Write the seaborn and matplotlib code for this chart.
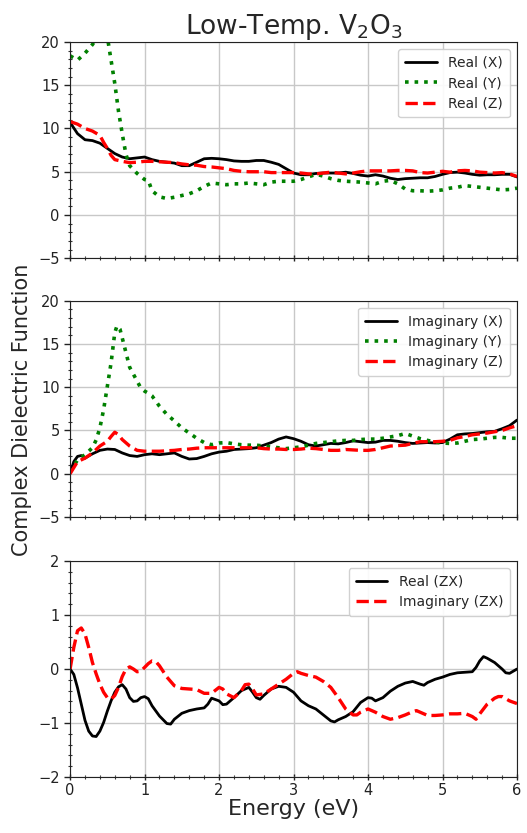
import numpy as np
import pandas as pd
import matplotlib
matplotlib.use("Agg")
import matplotlib.pyplot as plt
from matplotlib.ticker import AutoMinorLocator
import seaborn as sns

# ---- Real part, diagonal components ----
e_re_x = [0.0, 0.1, 0.2, 0.3, 0.4, 0.5, 0.6, 0.7, 0.8, 0.9, 1.0, 1.1, 1.2, 1.3, 1.4, 1.5, 1.6, 1.7, 1.8, 1.9,
          2.0, 2.1, 2.2, 2.3, 2.4, 2.5, 2.6, 2.7, 2.8, 2.9, 3.0, 3.1, 3.2, 3.3, 3.4, 3.5, 3.6, 3.7, 3.8, 3.9,
          4.0, 4.1, 4.2, 4.3, 4.4, 4.5, 4.6, 4.7, 4.8, 4.9, 5.0, 5.1, 5.2, 5.3, 5.4, 5.5, 5.6, 5.7, 5.8, 5.9, 6.0]
re_x = [10.7, 9.4, 8.7, 8.6, 8.3, 7.7, 7.1, 6.7, 6.5, 6.6, 6.7, 6.4, 6.2, 6.1, 6.0, 5.7, 5.7, 6.1, 6.5, 6.55,
        6.5, 6.4, 6.25, 6.2, 6.2, 6.3, 6.3, 6.1, 5.85, 5.35, 4.85, 4.65, 4.65, 4.8, 4.85, 4.85, 4.85, 4.95, 4.8, 4.6,
        4.5, 4.65, 4.5, 4.25, 4.1, 4.2, 4.25, 4.3, 4.3, 4.45, 4.7, 4.9, 4.95, 4.85, 4.7, 4.6, 4.65, 4.65, 4.7, 4.7, 4.4]

e_re_y = [0.0, 0.1, 0.2, 0.3, 0.4, 0.5, 0.6, 0.65, 0.7, 0.75, 0.8, 0.9, 1.0, 1.05, 1.1, 1.2, 1.3, 1.4, 1.5, 1.6,
          1.7, 1.8, 1.9, 2.0, 2.1, 2.2, 2.3, 2.4, 2.5, 2.6, 2.7, 2.8, 2.9, 3.0, 3.1, 3.2, 3.3, 3.4, 3.5, 3.6,
          3.7, 3.8, 3.9, 4.0, 4.1, 4.2, 4.3, 4.4, 4.5, 4.6, 4.7, 4.8, 4.9, 5.0, 5.1, 5.2, 5.3, 5.4, 5.5, 5.6,
          5.7, 5.8, 5.9, 6.0]
re_y = [18.4, 17.9, 18.7, 19.7, 21.0, 20.6, 15.2, 12.0, 9.4, 7.0, 5.7, 4.8, 4.1, 4.0, 2.8, 2.1, 1.9, 2.05, 2.25, 2.45,
        2.8, 3.3, 3.7, 3.6, 3.5, 3.6, 3.6, 3.7, 3.6, 3.5, 3.8, 3.9, 3.9, 3.9, 4.1, 4.4, 4.7, 4.5, 4.2, 4.0,
        3.9, 3.85, 3.8, 3.7, 3.6, 3.9, 4.0, 3.6, 3.0, 2.8, 2.8, 2.75, 2.8, 2.9, 3.1, 3.2, 3.4, 3.3, 3.2, 3.1,
        3.0, 2.9, 2.95, 3.1]

e_re_z = [0.0, 0.1, 0.2, 0.3, 0.4, 0.45, 0.5, 0.55, 0.6, 0.7, 0.8, 0.9, 1.0, 1.1, 1.2, 1.3, 1.4, 1.5, 1.6, 1.7,
          1.8, 1.9, 2.0, 2.1, 2.2, 2.3, 2.4, 2.5, 2.6, 2.7, 2.8, 2.9, 3.0, 3.1, 3.2, 3.3, 3.4, 3.5, 3.6, 3.7,
          3.8, 3.9, 4.0, 4.1, 4.2, 4.3, 4.4, 4.5, 4.6, 4.7, 4.8, 4.9, 5.0, 5.1, 5.2, 5.3, 5.4, 5.5, 5.6, 5.7,
          5.8, 5.9, 6.0]
re_z = [10.8, 10.5, 10.0, 9.7, 9.2, 8.4, 7.7, 6.9, 6.4, 6.2, 6.05, 6.1, 6.2, 6.2, 6.15, 6.1, 6.05, 5.9, 5.8, 5.75,
        5.6, 5.55, 5.45, 5.35, 5.15, 5.05, 5.0, 5.0, 5.0, 4.9, 4.9, 4.9, 4.9, 4.85, 4.75, 4.75, 4.85, 4.95, 4.85, 4.75,
        4.85, 5.0, 5.1, 5.1, 5.1, 5.1, 5.15, 5.15, 5.1, 4.9, 4.85, 4.95, 5.05, 4.95, 5.1, 5.15, 5.1, 4.95, 4.9, 4.85,
        4.9, 4.75, 4.45]

# ---- Imaginary part, diagonal components ----
e_im_x = [0.0, 0.05, 0.1, 0.15, 0.2, 0.3, 0.4, 0.5, 0.6, 0.7, 0.8, 0.9, 1.0, 1.1, 1.2, 1.3, 1.4, 1.5, 1.6, 1.7,
          1.8, 1.9, 2.0, 2.1, 2.2, 2.3, 2.4, 2.5, 2.6, 2.7, 2.8, 2.9, 3.0, 3.1, 3.2, 3.3, 3.4, 3.5, 3.6, 3.7,
          3.8, 3.9, 4.0, 4.1, 4.2, 4.3, 4.4, 4.5, 4.6, 4.7, 4.8, 4.9, 5.0, 5.1, 5.2, 5.3, 5.4, 5.5, 5.6, 5.7,
          5.8, 5.9, 6.0]
im_x = [0.0, 1.4, 2.0, 2.1, 1.8, 2.3, 2.7, 2.85, 2.8, 2.4, 2.1, 2.0, 2.2, 2.3, 2.2, 2.3, 2.4, 2.0, 1.7, 1.75,
        2.0, 2.3, 2.5, 2.6, 2.8, 2.85, 2.9, 3.0, 3.3, 3.6, 4.0, 4.25, 4.05, 3.75, 3.35, 3.2, 3.35, 3.5, 3.45, 3.6,
        3.8, 3.7, 3.6, 3.65, 3.85, 3.85, 3.75, 3.6, 3.5, 3.55, 3.6, 3.55, 3.6, 4.0, 4.5, 4.6, 4.65, 4.75, 4.85, 4.9,
        5.2, 5.55, 6.2]

e_im_y = [0.0, 0.1, 0.2, 0.3, 0.35, 0.4, 0.45, 0.5, 0.55, 0.6, 0.63, 0.67, 0.7, 0.75, 0.8, 0.9, 0.95, 1.0, 1.05, 1.1,
          1.2, 1.3, 1.4, 1.5, 1.6, 1.7, 1.8, 1.9, 2.0, 2.1, 2.2, 2.3, 2.4, 2.5, 2.6, 2.7, 2.8, 2.9, 3.0, 3.1,
          3.2, 3.3, 3.4, 3.5, 3.6, 3.7, 3.8, 3.9, 4.0, 4.1, 4.2, 4.3, 4.4, 4.5, 4.6, 4.7, 4.8, 4.9, 5.0, 5.1,
          5.2, 5.3, 5.4, 5.5, 5.6, 5.7, 5.8, 5.9, 6.0]
im_y = [0.2, 1.6, 2.2, 3.0, 3.9, 5.3, 7.4, 10.1, 12.8, 16.3, 17.1, 16.7, 15.7, 14.0, 12.3, 10.7, 9.9, 9.55, 9.3, 9.0,
        7.8, 6.85, 6.1, 5.3, 4.7, 4.1, 3.6, 3.35, 3.55, 3.6, 3.45, 3.35, 3.3, 3.3, 3.2, 3.1, 3.0, 2.9, 3.0, 3.1,
        3.3, 3.5, 3.6, 3.7, 3.8, 3.85, 3.85, 3.95, 4.0, 4.0, 4.1, 4.25, 4.4, 4.65, 4.35, 4.05, 3.85, 3.65, 3.55, 3.5,
        3.55, 3.75, 3.95, 4.0, 4.1, 4.2, 4.2, 4.1, 4.1]

e_im_z = [0.0, 0.1, 0.2, 0.3, 0.4, 0.5, 0.55, 0.6, 0.65, 0.7, 0.8, 0.9, 1.0, 1.1, 1.2, 1.3, 1.4, 1.5, 1.6, 1.7,
          1.8, 1.9, 2.0, 2.1, 2.2, 2.3, 2.4, 2.5, 2.6, 2.7, 2.8, 2.9, 3.0, 3.1, 3.2, 3.3, 3.4, 3.5, 3.6, 3.7,
          3.8, 3.9, 4.0, 4.1, 4.2, 4.3, 4.4, 4.5, 4.6, 4.7, 4.8, 4.9, 5.0, 5.1, 5.2, 5.3, 5.4, 5.5, 5.6, 5.7,
          5.8, 5.9, 6.0]
im_z = [0.0, 1.4, 1.8, 2.4, 3.2, 3.75, 4.3, 4.8, 4.5, 3.95, 3.2, 2.7, 2.6, 2.6, 2.6, 2.65, 2.7, 2.8, 2.85, 2.95,
        3.0, 3.0, 3.0, 3.0, 3.0, 3.0, 3.0, 3.0, 2.9, 2.85, 2.85, 2.8, 2.8, 2.85, 2.95, 2.9, 2.8, 2.7, 2.7, 2.8,
        2.75, 2.7, 2.7, 2.8, 3.0, 3.2, 3.25, 3.3, 3.5, 3.7, 3.7, 3.7, 3.75, 3.85, 4.15, 4.3, 4.5, 4.6, 4.7, 4.85,
        5.0, 5.3, 5.55]

# ---- Off-diagonal ZX component ----
e_zx_re = [0.0, 0.05, 0.1, 0.15, 0.2, 0.25, 0.3, 0.35, 0.4, 0.45, 0.5, 0.55, 0.6, 0.65, 0.7, 0.75, 0.8, 0.85, 0.9, 0.95,
           1.0, 1.05, 1.1, 1.2, 1.3, 1.35, 1.4, 1.5, 1.6, 1.7, 1.8, 1.85, 1.9, 2.0, 2.05, 2.1, 2.2, 2.3, 2.4, 2.45,
           2.5, 2.55, 2.6, 2.7, 2.8, 2.9, 3.0, 3.1, 3.2, 3.3, 3.4, 3.5, 3.55, 3.6, 3.7, 3.8, 3.9, 4.0, 4.05, 4.1,
           4.2, 4.3, 4.4, 4.5, 4.6, 4.7, 4.75, 4.8, 4.9, 5.0, 5.1, 5.2, 5.3, 5.4, 5.45, 5.5, 5.55, 5.6, 5.7, 5.8,
           5.85, 5.9, 6.0]
zx_re = [0.0, -0.1, -0.35, -0.65, -0.95, -1.15, -1.24, -1.25, -1.15, -0.99, -0.78, -0.59, -0.43, -0.33, -0.29, -0.37, -0.53, -0.6, -0.59, -0.53,
         -0.51, -0.55, -0.68, -0.87, -1.01, -1.02, -0.93, -0.82, -0.77, -0.74, -0.72, -0.65, -0.54, -0.59, -0.66, -0.65, -0.53, -0.4, -0.34, -0.43,
         -0.53, -0.56, -0.49, -0.37, -0.32, -0.34, -0.43, -0.59, -0.68, -0.74, -0.85, -0.96, -0.98, -0.94, -0.88, -0.79, -0.62, -0.53, -0.54, -0.59,
         -0.53, -0.41, -0.32, -0.26, -0.23, -0.28, -0.3, -0.25, -0.19, -0.15, -0.1, -0.07, -0.06, -0.05, 0.03, 0.15, 0.23, 0.2, 0.12, 0.0,
         -0.07, -0.08, 0.0]

e_zx_im = [0.0, 0.05, 0.1, 0.15, 0.2, 0.25, 0.3, 0.35, 0.4, 0.45, 0.5, 0.55, 0.6, 0.65, 0.7, 0.75, 0.8, 0.85, 0.9, 0.95,
           1.0, 1.05, 1.1, 1.15, 1.2, 1.3, 1.4, 1.5, 1.6, 1.7, 1.8, 1.9, 2.0, 2.05, 2.1, 2.2, 2.3, 2.35, 2.4, 2.45,
           2.5, 2.6, 2.7, 2.8, 2.9, 3.0, 3.05, 3.1, 3.2, 3.3, 3.4, 3.5, 3.6, 3.7, 3.8, 3.85, 3.9, 4.0, 4.1, 4.2,
           4.3, 4.4, 4.5, 4.6, 4.65, 4.7, 4.8, 4.9, 5.0, 5.1, 5.2, 5.3, 5.4, 5.45, 5.5, 5.6, 5.7, 5.75, 5.8, 5.9,
           6.0]
zx_im = [0.0, 0.4, 0.71, 0.76, 0.65, 0.4, 0.12, -0.09, -0.28, -0.43, -0.53, -0.56, -0.49, -0.34, -0.14, 0.0, 0.04, 0.0, -0.05, -0.04,
         0.03, 0.1, 0.15, 0.14, 0.06, -0.15, -0.31, -0.36, -0.37, -0.38, -0.45, -0.45, -0.34, -0.37, -0.46, -0.53, -0.4, -0.29, -0.28, -0.37,
         -0.48, -0.46, -0.37, -0.28, -0.19, -0.08, -0.05, -0.08, -0.12, -0.15, -0.23, -0.34, -0.53, -0.74, -0.85, -0.85, -0.8, -0.74, -0.8, -0.88,
         -0.93, -0.9, -0.85, -0.79, -0.77, -0.8, -0.86, -0.86, -0.85, -0.83, -0.83, -0.82, -0.88, -0.93, -0.83, -0.65, -0.54, -0.51, -0.51, -0.59,
         -0.64]

sns.set_style("ticks")
plt.rcParams["font.family"] = ["DejaVu Sans"]

fig = plt.figure(figsize=(5.27, 8.33), dpi=100)
left, width = 0.133, 0.848
ax1 = fig.add_axes([left, 0.690, width, 0.2596])
ax2 = fig.add_axes([left, 0.3794, width, 0.2596], sharex=ax1)
ax3 = fig.add_axes([left, 0.0672, width, 0.2593], sharex=ax1)

styles = {
    "solid": dict(color="black", linestyle="-", linewidth=2.0),
    "dot": dict(color="green", linestyle=":", linewidth=2.6),
    "dash": dict(color="red", linestyle="--", linewidth=2.4),
}

def draw(ax, e, v, label, style):
    df = pd.DataFrame({"Energy": e, "Value": v})
    sns.lineplot(data=df, x="Energy", y="Value", ax=ax, label=label, sort=False, **styles[style])

draw(ax1, e_re_x, re_x, "Real (X)", "solid")
draw(ax1, e_re_y, re_y, "Real (Y)", "dot")
draw(ax1, e_re_z, re_z, "Real (Z)", "dash")

draw(ax2, e_im_x, im_x, "Imaginary (X)", "solid")
draw(ax2, e_im_y, im_y, "Imaginary (Y)", "dot")
draw(ax2, e_im_z, im_z, "Imaginary (Z)", "dash")

draw(ax3, e_zx_re, zx_re, "Real (ZX)", "solid")
draw(ax3, e_zx_im, zx_im, "Imaginary (ZX)", "dash")

for ax in (ax1, ax2):
    ax.set_ylim(-5, 20)
    ax.set_yticks([-5, 0, 5, 10, 15, 20])
ax3.set_ylim(-2, 2)
ax3.set_yticks([-2, -1, 0, 1, 2])

for ax in (ax1, ax2, ax3):
    ax.set_xlim(0, 6)
    ax.set_xticks(range(0, 7))
    ax.xaxis.set_minor_locator(AutoMinorLocator())
    ax.yaxis.set_minor_locator(AutoMinorLocator())
    ax.grid(True, which="major", color="#c8c8c8", linewidth=1.0)
    ax.tick_params(axis="y", which="major", direction="out", length=4, width=1,
                   labelsize=10.5, colors="#222222")
    ax.tick_params(axis="x", which="major", direction="inout", length=4, width=1, pad=2,
                   labelsize=10.5, colors="#222222")
    ax.tick_params(which="minor", direction="inout", length=3, width=0.8, colors="#333333")
    for s in ax.spines.values():
        s.set_visible(True)
        s.set_color("#222222")
    ax.set_ylabel("")
    ax.set_xlabel("")
    ax.legend(loc="upper right", fontsize=10, framealpha=0.9, edgecolor="#cccccc",
              handlelength=2.3, borderpad=0.5, labelspacing=0.45)

ax1.tick_params(labelbottom=False)
ax2.tick_params(labelbottom=False)

ax1.set_title("Low-Temp. V$_2$O$_3$", fontsize=19, pad=4)
ax3.set_xlabel("Energy (eV)", fontsize=16, labelpad=1)
fig.text(0.042, 0.508, "Complex Dielectric Function", rotation=90, fontsize=15,
         ha="center", va="center")

fig.savefig("out.png", dpi=100)
